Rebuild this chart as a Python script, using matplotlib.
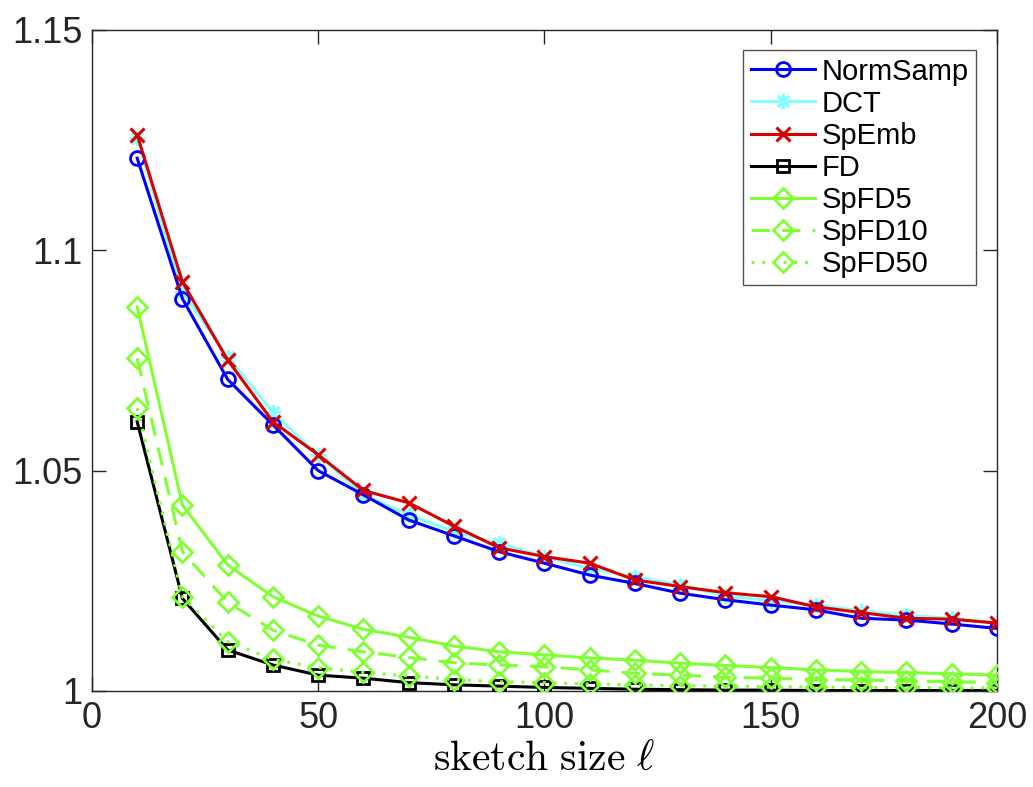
import matplotlib
matplotlib.use("Agg")
import matplotlib.pyplot as plt
from matplotlib.ticker import FixedLocator

plt.rcParams['font.family'] = ['Liberation Sans', 'DejaVu Sans']
plt.rcParams['mathtext.fontset'] = 'cm'

x = [10, 20, 30, 40, 50, 60, 70, 80, 90, 100, 110, 120, 130, 140, 150, 160, 170, 180, 190, 200]

normsamp = [1.1209, 1.0890, 1.0707, 1.0604, 1.0500, 1.0445, 1.0388, 1.0352, 1.0316, 1.0290,
            1.0263, 1.0244, 1.0222, 1.0207, 1.0195, 1.0184, 1.0165, 1.0161, 1.0152, 1.0142]
dct = [1.1255, 1.0906, 1.0758, 1.0632, 1.0535, 1.0445, 1.0400, 1.0362, 1.0335, 1.0305,
       1.0278, 1.0259, 1.0240, 1.0216, 1.0205, 1.0195, 1.0182, 1.0172, 1.0165, 1.0155]
spemb = [1.1262, 1.0928, 1.0751, 1.0611, 1.0536, 1.0455, 1.0427, 1.0374, 1.0325, 1.0305,
         1.0290, 1.0252, 1.0237, 1.0223, 1.0214, 1.0191, 1.0178, 1.0165, 1.0163, 1.0154]
fd = [1.0611, 1.0210, 1.0093, 1.0059, 1.0036, 1.0029, 1.0019, 1.0014, 1.0011, 1.0008,
      1.0006, 1.0004, 1.0003, 1.0002, 1.0002, 1.0001, 1.0001, 1.0001, 1.0001, 1.0001]
spfd5 = [1.0872, 1.0422, 1.0286, 1.0214, 1.0170, 1.0140, 1.0122, 1.0102, 1.0089, 1.0082,
         1.0075, 1.0070, 1.0063, 1.0058, 1.0053, 1.0048, 1.0044, 1.0042, 1.0039, 1.0036]
spfd10 = [1.0755, 1.0316, 1.0201, 1.0138, 1.0104, 1.0089, 1.0076, 1.0064, 1.0059, 1.0055,
          1.0048, 1.0040, 1.0036, 1.0031, 1.0029, 1.0026, 1.0025, 1.0023, 1.0021, 1.0019]
spfd50 = [1.0642, 1.0214, 1.0112, 1.0072, 1.0053, 1.0042, 1.0034, 1.0026, 1.0021, 1.0019,
          1.0016, 1.0014, 1.0012, 1.0011, 1.0010, 1.0009, 1.0008, 1.0008, 1.0007, 1.0007]

xticks = [0, 50, 100, 150, 200]
yticks = [1.0, 1.05, 1.1, 1.15]
ytick_labels = ['1', '1.05', '1.1', '1.15']

fig = plt.figure(figsize=(10.33, 7.87), dpi=100)
ax = fig.add_axes([0.089, 0.122, 0.876, 0.840])

blue = '#0000ff'
cyan = '#88ffff'
red = '#d80000'
green = '#80ff33'
lw = 2.2
ms = 10

ax.plot(x, normsamp, color=blue, lw=lw, marker='o', ms=ms, mfc='none', mew=2, label='NormSamp', zorder=3)
ax.plot(x, dct, color=cyan, lw=lw, marker=(8, 2, 0), ms=ms + 1, mew=2, label='DCT', zorder=2)
ax.plot(x, spemb, color=red, lw=lw, marker='x', ms=ms, mew=2.2, label='SpEmb', zorder=4)
ax.plot(x, fd, color='black', lw=lw, marker='s', ms=8, mfc='none', mew=2, label='FD', zorder=3)
ax.plot(x, spfd5, color=green, lw=lw, ls='-', marker='D', ms=10, mfc='none', mew=2, label='SpFD5', zorder=3)
ax.plot(x, spfd10, color=green, lw=lw, ls=(0, (6, 4)), marker='D', ms=10, mfc='none', mew=2, label='SpFD10', zorder=3)
ax.plot(x, spfd50, color=green, lw=lw, ls=(0, (1, 2.5)), marker='D', ms=10, mfc='none', mew=2, label='SpFD50', zorder=4)

ax.set_xlim(0, 200)
ax.set_ylim(1.0, 1.15)
ax.xaxis.set_major_locator(FixedLocator(xticks))
ax.yaxis.set_major_locator(FixedLocator(yticks))
ax.set_yticklabels(ytick_labels)
ax.set_xticklabels([str(t) for t in xticks])

axcol = '#262626'
for s in ax.spines.values():
    s.set_color(axcol)
    s.set_linewidth(1.0)
ax.tick_params(direction='in', length=10, width=1.0, colors=axcol, labelcolor=axcol,
               labelsize=26, top=True, right=True, pad=7)

ax.set_xlabel(r'$\mathrm{sketch\ size}\ \ell$', fontsize=30, labelpad=2)

leg = ax.legend(loc='upper right', fontsize=21, frameon=True, fancybox=False,
                edgecolor=axcol, handlelength=2.2, borderpad=0.25, labelspacing=0.14,
                handletextpad=0.25, borderaxespad=0.7)
leg.get_frame().set_linewidth(1.0)

fig.savefig('out.png', dpi=100)
